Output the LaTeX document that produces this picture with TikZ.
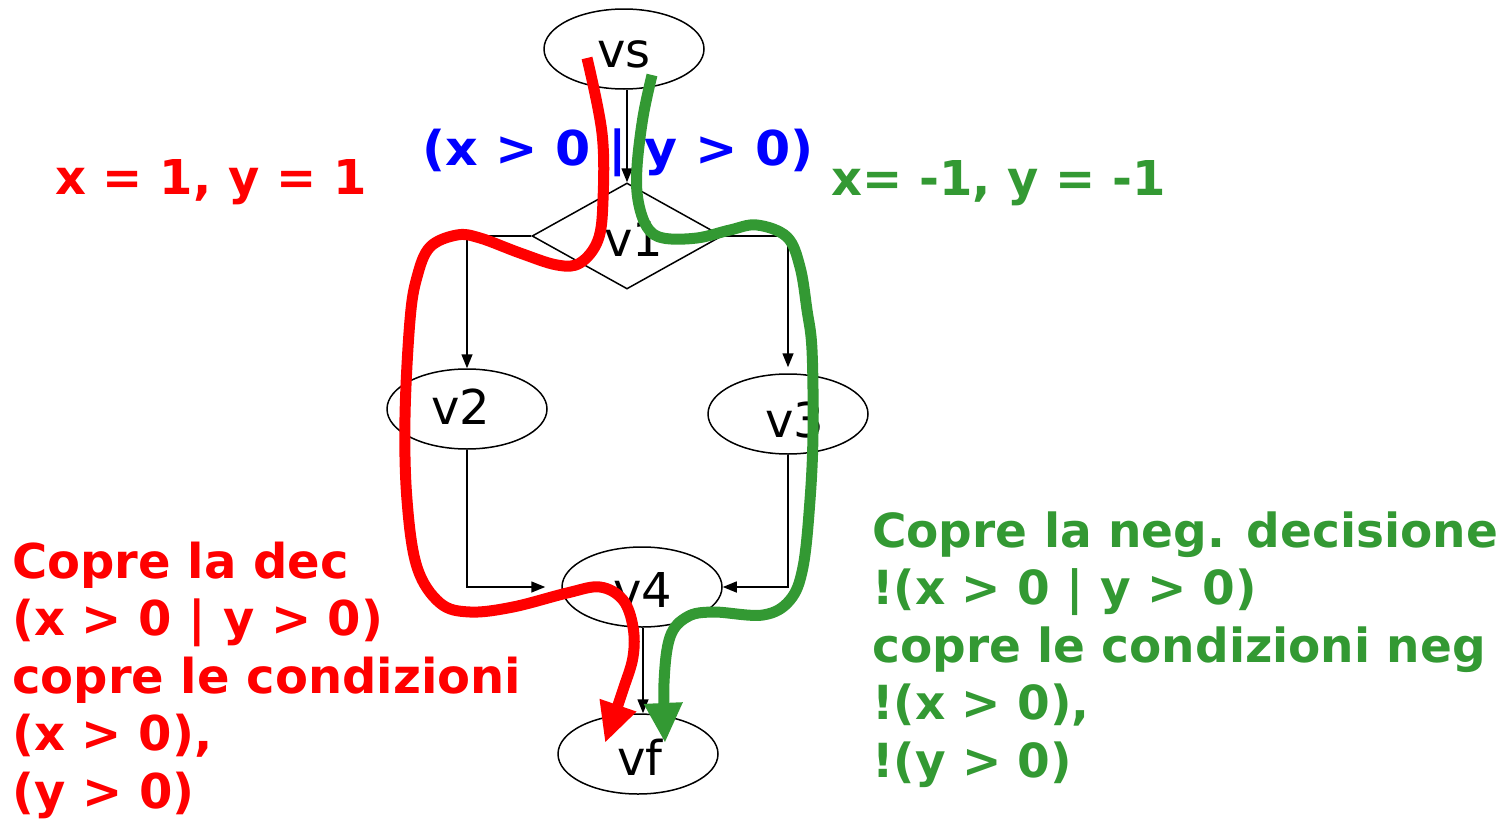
\documentclass[tikz,border=0pt]{standalone}
\usepackage{fontspec}
\setmainfont{DejaVu Sans}
\usetikzlibrary{shapes.geometric,arrows.meta}
\definecolor{pgreen}{RGB}{51,153,51}
\newcommand\shtxt[3]{\hspace*{#1}\raisebox{#2}[\height][\depth]{#3}\hspace*{-#1}}
\begin{document}
\begin{tikzpicture}[x=1pt,y=-1pt,
  gnode/.style={draw,line width=1.5pt,ellipse,minimum width=160pt,minimum height=80pt,inner sep=0pt,font=\fontsize{48}{48}\selectfont},
  arr/.style={line width=1.5pt,-{Triangle[length=14pt,width=11pt]}},
  lbl/.style={font=\fontsize{48}{57.5}\selectfont\bfseries,inner sep=0pt,align=left},
  hl/.style={line width=11pt,line join=round,-{Triangle[length=40pt,width=36pt]}}]
\useasboundingbox (0,0) rectangle (1512,819);
\node[gnode] (vs) at (624,49) {\shtxt{0pt}{-5pt}{vs}};
\node[draw,line width=1.5pt,diamond,minimum width=190pt,minimum height=106pt,inner sep=0pt,font=\fontsize{48}{48}\selectfont] (v1) at (627,236) {\shtxt{7pt}{-3pt}{v1}};
\node[gnode] (v2) at (467,409) {\shtxt{-6pt}{2pt}{v2}};
\node[gnode] (v3) at (788,414) {\shtxt{7pt}{-6pt}{v3}};
\node[gnode] (v4) at (642,587) {\shtxt{1pt}{-3pt}{v4}};
\node[gnode] (vf) at (638,754) {\shtxt{2pt}{-3pt}{vf}};
\draw[arr] (v1.north |- vs.south) -- (v1.north);
\draw[arr] (v1.west) -| (v2.north);
\draw[arr,shorten >=6pt] (v1.east) -| (v3.north);
\draw[arr,shorten >=16pt] (v2.south) |- (v4.west);
\draw[arr] (v3.south) |- (v4.east);
\draw[arr] ([xshift=1pt]v4.south) -- ([xshift=1pt]v4.south |- vf.north);
\node[lbl,text=blue,anchor=base west] (cond) at (422,165) {\scalebox{1.055}[1]{(x > 0 | y > 0)}};
\node[lbl,text=red,anchor=base west] (tin1) at (55,194) {x = 1, y = 1};
\node[lbl,text=pgreen,anchor=base west] (tin2) at (831,195) {x= -1, y = -1};
\node[lbl,text=red,anchor=base west] (rtxt) at (12,808) {Copre la dec\\(x > 0 | y > 0)\\copre le condizioni\\(x > 0),\\(y > 0)};
\node[lbl,text=pgreen,anchor=base west,font=\fontsize{47}{57.5}\selectfont\bfseries] (gtxt) at (872,777) {Copre la neg. decisione\\!(x > 0 | y > 0)\\copre le condizioni neg\\!(x > 0),\\!(y > 0)};
\draw[hl,red] plot[smooth,tension=0.6] coordinates {(587,58) (602,133) (603,200) (598,240) (580,263) (557,265) (520,253) (480,238) (457,235) (430,247) (417,277) (410,320) (405,417) (407,500) (417,567) (440,603) (470,612) (513,607) (567,593) (600,587) (623,600) (633,627) (633,657) (623,690) (605,743)};
\draw[hl,pgreen] plot[smooth,tension=0.6] coordinates {(652,75) (643,117) (637,167) (638,200) (647,227) (663,238) (697,238) (730,230) (757,225) (787,237) (800,267) (807,310) (812,350) (813,433) (810,500) (803,567) (790,600) (763,615) (713,612) (687,617) (670,637) (664,683) (665,743)};
\end{tikzpicture}
\end{document}
